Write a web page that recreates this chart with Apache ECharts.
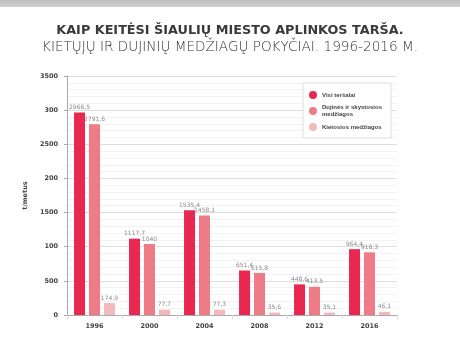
<!DOCTYPE html>
<html><head><meta charset="utf-8">
<script src="https://cdn.jsdelivr.net/npm/echarts@6/dist/echarts.min.js"></script>
<style>html,body{margin:0;padding:0;background:#fff}#c{width:460px;height:351px}</style>
</head><body><div id="c"></div>
<script>
const categories = ['1996','2000','2004','2008','2012','2016'];
const visiTersalai = [2966.5, 1117.7, 1535.4, 651.4, 448.6, 964.4];
const dujines = [2791.6, 1040, 1458.1, 615.8, 413.5, 918.3];
const kietosios = [174.9, 77.7, 77.3, 35.6, 35.1, 46.1];
const yTickLabels = ['0','500','100','1500','200','2500','300','3500'];
const seriesNames = ['Visi teršalai', 'Dujinės ir skystosios\nmedžiagos', 'Kietosios medžiagos'];
const colors = ['#e92851', '#ee7c86', '#f3b8bb'];

const FONT = 'DejaVu Sans';
function fmt(v){ return String(v).replace('.', ','); }

const chart = echarts.init(document.getElementById('c'), null, {renderer:'canvas'});
const mk = (name, data, color) => ({
  name, type:'bar', data, barWidth:11, barGap:'36%',
  itemStyle:{color},
  label:{show:true, position:'top', distance:2, fontFamily:FONT, fontSize:6, color:'#8a8a8a',
    formatter:p=>fmt(p.value)}
});
chart.setOption({
  animation:false,
  backgroundColor:'#fff',
  graphic:[{type:'rect', shape:{x:0,y:0,width:460,height:7},
    style:{fill:new echarts.graphic.LinearGradient(0,0,0,1,[{offset:0,color:'#bdbdbd'},{offset:1,color:'#cfcfcf'}])}}],
  title:{
    text:'KAIP KEITĖSI ŠIAULIŲ MIESTO APLINKOS TARŠA.',
    subtext:'KIETŲJŲ IR DUJINIŲ MEDŽIAGŲ POKYČIAI. 1996-2016 M.',
    left:'center', top:19, itemGap:3,
    textStyle:{fontFamily:FONT, fontWeight:'bold', fontSize:12.8, color:'#3a3a3a'},
    subtextStyle:{fontFamily:FONT, fontWeight:200, fontSize:13.6, color:'#333'}
  },
  legend:{
    orient:'vertical', left:303, top:83,
    padding:[8,9,7,6], itemGap:5,
    backgroundColor:'#fff', borderColor:'#ddd', borderWidth:1,
    icon:'circle', itemWidth:8, itemHeight:8,
    textStyle:{fontFamily:'Liberation Sans', fontWeight:'bold', fontSize:6, color:'#444', lineHeight:7},
    data:seriesNames
  },
  grid:{left:67, right:63, top:76, bottom:36, containLabel:false},
  xAxis:{
    type:'category', data:categories,
    axisLine:{lineStyle:{color:'#aaa'}},
    axisTick:{show:true, length:4, lineStyle:{color:'#ddd'}},
    axisLabel:{fontFamily:FONT, fontWeight:'bold', fontSize:6.5, color:'#444', margin:8}
  },
  yAxis:{
    type:'value', min:0, max:3500, interval:500,
    name:'t/metus', nameLocation:'middle', nameRotate:90, nameGap:37,
    nameTextStyle:{fontFamily:FONT, fontWeight:'bold', fontSize:6.5, color:'#444'},
    axisLine:{show:true, lineStyle:{color:'#aaa'}},
    axisTick:{show:true, length:3, lineStyle:{color:'#aaa'}},
    axisLabel:{fontFamily:FONT, fontWeight:'bold', fontSize:6.5, color:'#444', margin:9,
      formatter:function(v){ return yTickLabels[Math.round(Number(v)/500)]; }},
    splitLine:{lineStyle:{color:'#dedede'}},
    minorTick:{show:false, splitNumber:5},
    minorSplitLine:{show:true, lineStyle:{color:'#f2f2f2'}}
  },
  series:[
    mk(seriesNames[0], visiTersalai, colors[0]),
    mk(seriesNames[1], dujines, colors[1]),
    mk(seriesNames[2], kietosios, colors[2])
  ]
});
</script></body></html>
